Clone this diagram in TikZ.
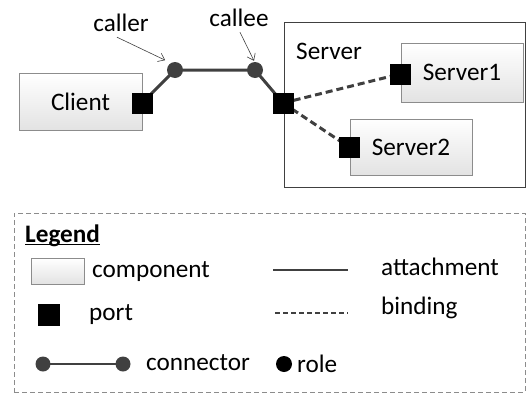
\documentclass[tikz,border=0pt]{standalone}
\usepackage{fontspec}
\setmainfont{Carlito}
\usetikzlibrary{arrows.meta,backgrounds}
\definecolor{ink}{HTML}{404040}
\definecolor{edge}{HTML}{8C8C8C}
\begin{document}
\begin{tikzpicture}[x=1pt,y=-1pt,
  every node/.style={font=\fontsize{25.2}{30}\selectfont, inner sep=0pt},
  lbl/.style={text height=17pt, text depth=5pt},
  comp/.style={rectangle, draw=edge, line width=0.8pt, top color=white, bottom color=black!11},
  port/.style={rectangle, fill=black, minimum size=21pt},
  role/.style={circle, fill=ink, minimum size=16pt},
  attach/.style={draw=ink, line width=3pt},
  bind/.style={draw=ink, line width=3pt, dash pattern=on 7pt off 4pt},
  pointer/.style={draw=ink, line width=0.6pt, -{Straight Barb[length=6pt,width=9pt]}}
]
\useasboundingbox (0,0) rectangle (528,394);

% ---- main diagram ----
\node[comp, minimum width=123pt, minimum height=57pt] (client) at (80.5,101.5) {Client};
\node[draw=ink, line width=0.8pt, minimum width=241pt, minimum height=165pt] (server) at (404.5,104.5) {};
\node[lbl, anchor=west] (serverlbl) at (296,53) {Server};
\node[comp, minimum width=122pt, minimum height=59pt] (s1) at (462,72.5) {Server1};
\node[comp, minimum width=122pt, minimum height=56pt] (s2) at (411,147) {Server2};

\node[port] (cport) at (142,103) {};
\node[port] (sport) at (283,103) {};
\node[port] (s1port) at (400,74) {};
\node[port] (s2port) at (349,147) {};

\node[role] (caller) at (175,70) {};
\node[role] (callee) at (255,70) {};

\begin{scope}[on background layer]
  \draw[attach] (cport.center) -- (caller.center) -- (callee.center) -- (sport.center);
  \draw[bind] (sport.center) -- (s1port.center);
  \draw[bind] (sport.center) -- (s2port.center);
\end{scope}

\node[lbl] (callerlbl) at (121,25) {caller};
\node[lbl] (calleelbl) at (239,20) {callee};
\draw[pointer] ([xshift=-4pt,yshift=-1pt]callerlbl.south) -- ([shift={(-4,-4)}]caller.135);
\draw[pointer] ([xshift=1pt,yshift=-1pt]calleelbl.south) -- ([shift={(-1,-1)}]callee.north);

% ---- legend ----
\node[draw=edge, line width=0.8pt, dash pattern=on 5pt off 3pt, minimum width=511pt, minimum height=179pt] (legend) at (269.5,302.5) {};
\node[lbl, anchor=west, font=\fontsize{25.2}{30}\selectfont\bfseries] (legtitle) at (25,236) {Legend};
\draw[line width=1.4pt] ([yshift=-2.5pt]legtitle.base west) -- ([yshift=-2.5pt]legtitle.base east);

\node[comp, minimum width=53pt, minimum height=26pt] (lcomp) at (57.5,271) {};
\node[lbl, anchor=west] (lcomptxt) at (92,271) {component};
\node[port, minimum size=22pt] (lport) at (49,315) {};
\node[lbl, anchor=west] (lporttxt) at (89,314) {port};

\coordinate (la1) at (273,270);
\coordinate (la2) at (348,270);
\draw[attach, line width=2.5pt] (la1) -- (la2);
\node[lbl, anchor=west] (lattxt) at (381,269) {attachment};
\coordinate (lb1) at (275,313);
\coordinate (lb2) at (348,313);
\draw[draw=ink, line width=2pt, dash pattern=on 5pt off 3pt] (lb1) -- (lb2);
\node[lbl, anchor=west] (lbtxt) at (381,308) {binding};

\node[role, minimum size=15pt] (lr1) at (43,364) {};
\node[role, minimum size=15pt] (lr2) at (123,364) {};
\begin{scope}[on background layer]
  \draw[attach, line width=2.5pt] (lr1.center) -- (lr2.center);
\end{scope}
\node[lbl, anchor=west] (lcontxt) at (146,364) {connector};
\node[circle, fill=black, minimum size=16pt] (lrole) at (284,364) {};
\node[lbl, anchor=west] (lroletxt) at (297,366) {role};
\end{tikzpicture}
\end{document}
